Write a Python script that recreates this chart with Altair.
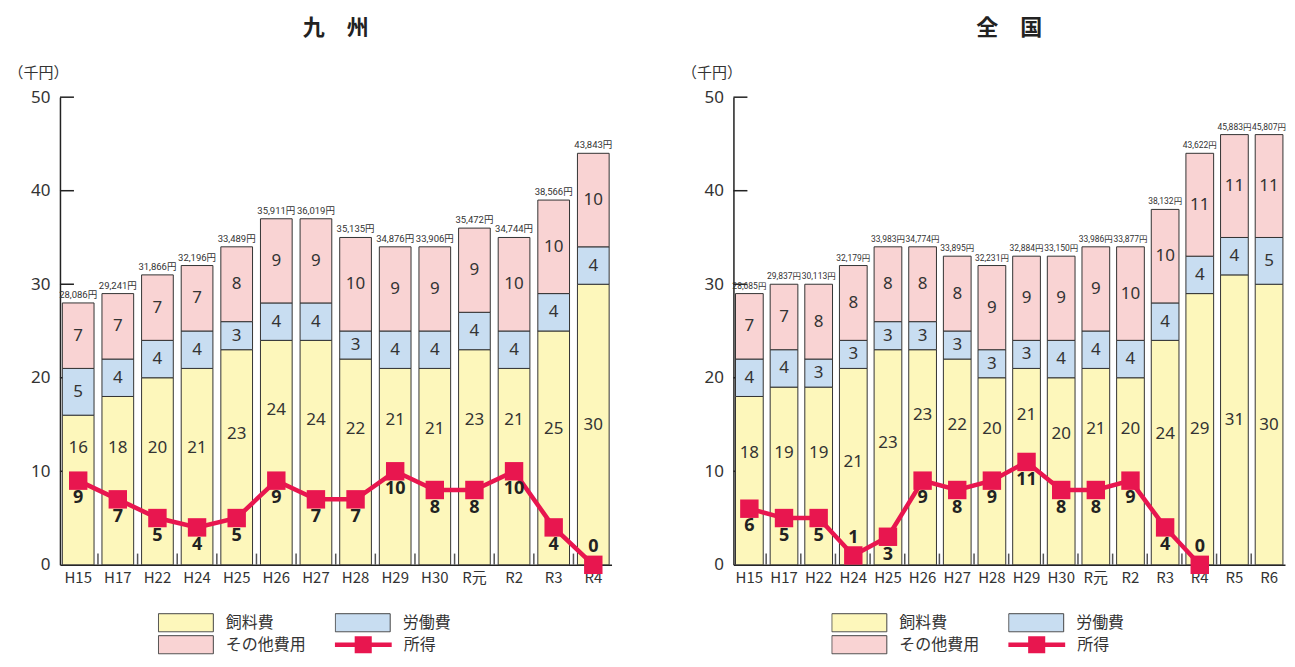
import altair as alt
import pandas as pd

# ---------------- data ----------------
ky_cats = ["H15", "H17", "H22", "H24", "H25", "H26", "H27", "H28", "H29", "H30", "R元", "R2", "R3", "R4"]
ky_feed = [16, 18, 20, 21, 23, 24, 24, 22, 21, 21, 23, 21, 25, 30]
ky_labor = [5, 4, 4, 4, 3, 4, 4, 3, 4, 4, 4, 4, 4, 4]
ky_other = [7, 7, 7, 7, 8, 9, 9, 10, 9, 9, 9, 10, 10, 10]
ky_total = [28086, 29241, 31866, 32196, 33489, 35911, 36019, 35135, 34876, 33906, 35472, 34744, 38566, 43843]
ky_income = [9, 7, 5, 4, 5, 9, 7, 7, 10, 8, 8, 10, 4, 0]

zk_cats = ["H15", "H17", "H22", "H24", "H25", "H26", "H27", "H28", "H29", "H30", "R元", "R2", "R3", "R4", "R5", "R6"]
zk_feed = [18, 19, 19, 21, 23, 23, 22, 20, 21, 20, 21, 20, 24, 29, 31, 30]
zk_labor = [4, 4, 3, 3, 3, 3, 3, 3, 3, 4, 4, 4, 4, 4, 4, 5]
zk_other = [7, 7, 8, 8, 8, 8, 8, 9, 9, 9, 9, 10, 10, 11, 11, 11]
zk_total = [28685, 29837, 30113, 32179, 33983, 34774, 33895, 32231, 32884, 33150, 33986, 33877, 38132, 43622, 45883, 45807]
zk_income = [6, 5, 5, 1, 3, 9, 8, 9, 11, 8, 8, 9, 4, 0, None, None]

components = ["飼料費", "労働費", "その他費用"]
comp_colors = ["#FDF7BB", "#C8DDF1", "#F9D3D3"]
income_name = "所得"
RED = "#E8164F"
y_ticks = [0, 10, 20, 30, 40, 50]

FONT = "Noto Sans CJK JP"
NUMFONT = "Noto Sans"
SMALLFONT = "Roboto, 'Noto Sans CJK JP'"
W, H = 552, 468

RECT_PATH = "M-1,-0.33 L1,-0.33 L1,0.33 L-1,0.33 Z"
LINE_PATH = ("M-1,-0.075 L-0.3,-0.075 L-0.3,-0.3 L0.3,-0.3 L0.3,-0.075 L1,-0.075 "
             "L1,0.075 L0.3,0.075 L0.3,0.3 L-0.3,0.3 L-0.3,0.075 L-1,0.075 Z")


def panel(title, cats, feed, labor, other, total, income, tot_size):
    rows = []
    for i, c in enumerate(cats):
        for k, vals in enumerate([feed, labor, other]):
            rows.append(dict(cat=c, comp=components[k], ord=k, v=vals[i]))
    bars_df = pd.DataFrame(rows)

    lab_rows = []
    for i, c in enumerate(cats):
        inc = income[i] if income[i] is not None else 0
        lab_rows.append(dict(cat=c, pos=(feed[i] + inc) / 2, txt=str(feed[i])))
        lab_rows.append(dict(cat=c, pos=feed[i] + labor[i] / 2, txt=str(labor[i])))
        lab_rows.append(dict(cat=c, pos=feed[i] + labor[i] + other[i] / 2, txt=str(other[i])))
    lab_df = pd.DataFrame(lab_rows)

    tot_df = pd.DataFrame(dict(
        cat=cats,
        top=[f + l + o for f, l, o in zip(feed, labor, other)],
        txt=[f"{t:,}円" for t in total],
    ))

    inc_df = pd.DataFrame([dict(cat=c, inc=v, s=income_name,
                                lpos=(v - 1.9 if v >= 2 else v + 1.9), txt=str(v))
                           for c, v in zip(cats, income) if v is not None])

    tick_df = pd.DataFrame(dict(t=y_ticks[1:]))
    xt_df = pd.DataFrame(dict(cat=cats[1:]))

    xsc = alt.Scale(domain=cats, paddingInner=0.2, paddingOuter=0.06)
    ysc = alt.Scale(domain=[0, 50], nice=False, zero=True)

    x_axis = alt.Axis(title=None, labelAngle=0, labelFontSize=15, labelColor="#333",
                      labelFont=FONT, tickSize=0, labelPadding=6, domainColor="#222",
                      domainWidth=1.5)
    y_axis = alt.Axis(values=y_ticks, grid=False, tickSize=0, labelPadding=10,
                      labelFontSize=17, labelColor="#333", labelFont=NUMFONT,
                      domainColor="#222", domainWidth=1.5,
                      title="（千円）", titleAngle=0, titleX=-52, titleY=-25,
                      titleAlign="left", titleBaseline="middle", titleFontSize=15,
                      titleFontWeight="normal", titleFont=FONT, titleColor="#333")

    X = alt.X("cat:N", scale=xsc, axis=x_axis, sort=cats)

    yticks = alt.Chart(tick_df).mark_rule(color="#222", strokeWidth=1.5).encode(
        y=alt.Y("t:Q", scale=ysc, axis=y_axis), x=alt.value(0), x2=alt.value(14))

    xticks = alt.Chart(xt_df).mark_rule(color="#555", strokeWidth=1.5, xOffset=-4).encode(
        x=alt.X("cat:N", scale=xsc, axis=x_axis, sort=cats, bandPosition=0),
        y=alt.datum(0, scale=ysc), y2=alt.datum(1.2))

    bars = alt.Chart(bars_df).mark_bar(stroke="#333", strokeWidth=1).encode(
        x=X,
        y=alt.Y("v:Q", stack="zero", scale=ysc, axis=y_axis),
        fill=alt.Fill("comp:N", scale=alt.Scale(domain=components, range=comp_colors),
                      legend=alt.Legend(title=None, orient="none", legendX=98, legendY=516,
                                        columns=2, direction="horizontal",
                                        symbolType=RECT_PATH, symbolSize=3025,
                                        symbolStrokeColor="#444", symbolStrokeWidth=1,
                                        labelFontSize=16, labelFont=FONT, labelColor="#333",
                                        labelOffset=12, columnPadding=28, rowPadding=2,
                                        clipHeight=20)),
        order=alt.Order("ord:Q", sort="ascending"),
    )

    seg_labels = alt.Chart(lab_df).mark_text(fontSize=17, color="#333", font=NUMFONT,
                                             baseline="middle").encode(
        x=X, y=alt.Y("pos:Q", scale=ysc), text="txt:N")

    tot_labels = alt.Chart(tot_df).mark_text(fontSize=tot_size, color="#333", font=SMALLFONT,
                                             baseline="bottom", dy=-3).encode(
        x=X, y=alt.Y("top:Q", scale=ysc), text="txt:N")

    line = alt.Chart(inc_df).mark_line(color=RED, strokeWidth=4.5).encode(
        x=X, y=alt.Y("inc:Q", scale=ysc))

    squares = alt.Chart(inc_df).mark_square(size=340, opacity=1).encode(
        x=X, y=alt.Y("inc:Q", scale=ysc),
        color=alt.Color("s:N", scale=alt.Scale(domain=[income_name], range=[RED]),
                        legend=alt.Legend(title=None, orient="none", legendX=275,
                                          legendY=538, symbolType=LINE_PATH,
                                          symbolSize=3249, symbolStrokeWidth=0,
                                          labelFontSize=16, labelFont=FONT,
                                          labelColor="#333", labelOffset=12,
                                          clipHeight=20)))

    inc_labels = alt.Chart(inc_df).mark_text(fontSize=18, fontWeight="bold", color="#222",
                                             font=NUMFONT, baseline="middle").encode(
        x=X, y=alt.Y("lpos:Q", scale=ysc), text="txt:N")

    return alt.layer(yticks, bars, xticks, seg_labels, tot_labels, line, squares,
                     inc_labels).properties(
        width=W, height=H,
        title=alt.TitleParams(title, fontSize=22, fontWeight="bold", font=FONT,
                              color="#222", anchor="middle", offset=25),
    ).resolve_scale(fill="independent", color="independent")


left = panel("九　州", ky_cats, ky_feed, ky_labor, ky_other, ky_total, ky_income, 9.5)
right = panel("全　国", zk_cats, zk_feed, zk_labor, zk_other, zk_total, zk_income, 8.5)

chart = alt.hconcat(left, right, spacing=69).resolve_scale(
    fill="independent", color="independent", x="independent", y="independent"
).resolve_legend(fill="independent", color="independent").properties(
    padding={"left": 0, "top": 9, "right": 0, "bottom": 0}
).configure(font=FONT).configure_view(strokeWidth=0, stroke="transparent")

chart.save("out.html", embed_options={"renderer": "svg", "actions": False})
